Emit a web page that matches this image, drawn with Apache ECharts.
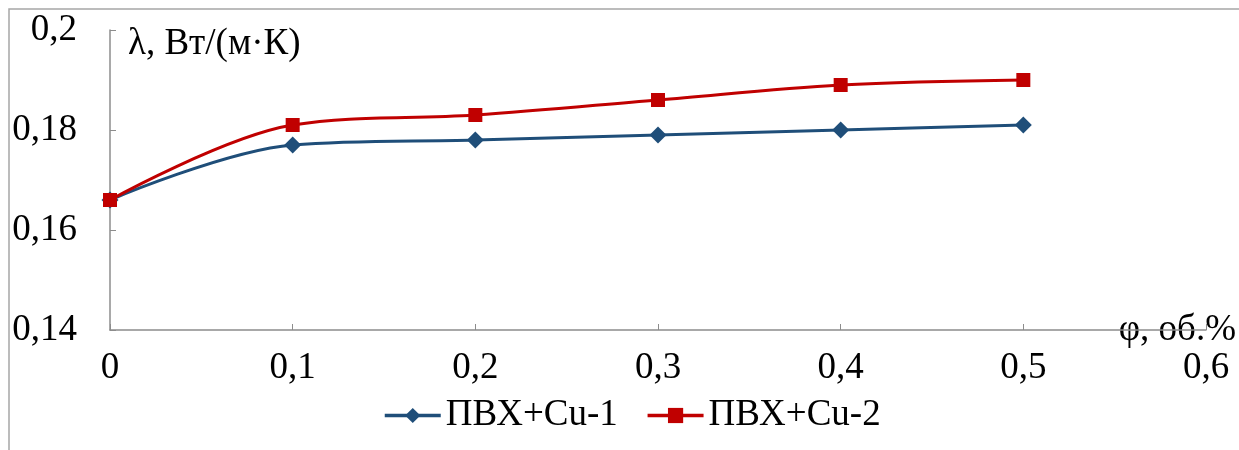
<!DOCTYPE html>
<html>
<head>
<meta charset="utf-8">
<script src="https://cdn.jsdelivr.net/npm/echarts@6/dist/echarts.min.js"></script>
<style>
  html, body { margin: 0; padding: 0; background: #fff; }
  #chart { width: 1239px; height: 450px; }
</style>
</head>
<body>
<div id="chart"></div>
<script>
// объёмная доля наполнителя, об.%
const phi = [0, 0.1, 0.2, 0.3, 0.4, 0.5]
// теплопроводность, Вт/(м·К)
const pvcCu1 = [0.166, 0.177, 0.178, 0.179, 0.180, 0.181]
const pvcCu2 = [0.166, 0.181, 0.183, 0.186, 0.189, 0.190]
const seriesNames = ['ПВХ+Cu-1', 'ПВХ+Cu-2']

const font = 'Liberation Serif'
const fontSize = 37
const axisColor = '#8c8c8c'

const chart = echarts.init(document.getElementById('chart'))

const toComma = v => String(Math.round(v * 100) / 100).replace('.', ',')

chart.setOption({
  animation: false,
  textStyle: { fontFamily: font },
  graphic: [{
    type: 'rect',
    shape: { x: 9, y: 9, width: 1400, height: 600 },
    style: { fill: 'none', stroke: '#a6a6a6', lineWidth: 1.5 }
  }],
  grid: {
    left: 110,
    right: 33,
    top: 30,
    bottom: 120,
    containLabel: false
  },
  legend: {
    data: seriesNames,
    left: 378,
    top: 392,
    itemWidth: 56,
    itemHeight: 19,
    itemGap: 28,
    lineStyle: { width: 3.5 },
    textStyle: { fontFamily: font, fontSize: fontSize, color: '#000' }
  },
  xAxis: {
    type: 'value',
    min: 0,
    max: 0.6,
    interval: 0.1,
    name: 'φ, об.%',
    nameLocation: 'end',
    nameGap: 30,
    nameTextStyle: {
      fontFamily: font, fontSize: fontSize, color: '#000',
      align: 'right', verticalAlign: 'middle', padding: [0, 0, 10, 0]
    },
    axisLine: { lineStyle: { color: axisColor, width: 1.5 } },
    axisTick: { show: true, inside: true, length: 6, lineStyle: { color: axisColor } },
    splitLine: { show: false },
    axisLabel: {
      margin: 20,
      fontSize: fontSize,
      color: '#000',
      formatter: toComma
    }
  },
  yAxis: {
    type: 'value',
    min: 0.14,
    max: 0.2,
    interval: 0.02,
    name: 'λ, Вт/(м·К)',
    nameLocation: 'end',
    nameGap: -14,
    nameTextStyle: {
      fontFamily: font, fontSize: fontSize, color: '#000',
      align: 'left', verticalAlign: 'middle', padding: [0, 0, 0, 18]
    },
    axisLine: { show: true, lineStyle: { color: axisColor, width: 1.5 } },
    axisTick: { show: true, inside: true, length: 6, lineStyle: { color: axisColor } },
    splitLine: { show: false },
    axisLabel: {
      margin: 33,
      fontSize: fontSize,
      color: '#000',
      formatter: toComma
    }
  },
  series: [{
    name: seriesNames[0],
    type: 'line',
    data: phi.map((x, i) => [x, pvcCu1[i]]),
    smooth: 0.35,
    symbol: 'diamond',
    symbolSize: 17,
    itemStyle: { color: '#1f4e79' },
    lineStyle: { color: '#1f4e79', width: 3 }
  }, {
    name: seriesNames[1],
    type: 'line',
    data: phi.map((x, i) => [x, pvcCu2[i]]),
    smooth: 0.35,
    symbol: 'rect',
    symbolSize: 14,
    itemStyle: { color: '#c00000' },
    lineStyle: { color: '#c00000', width: 3 }
  }]
})
</script>
</body>
</html>
